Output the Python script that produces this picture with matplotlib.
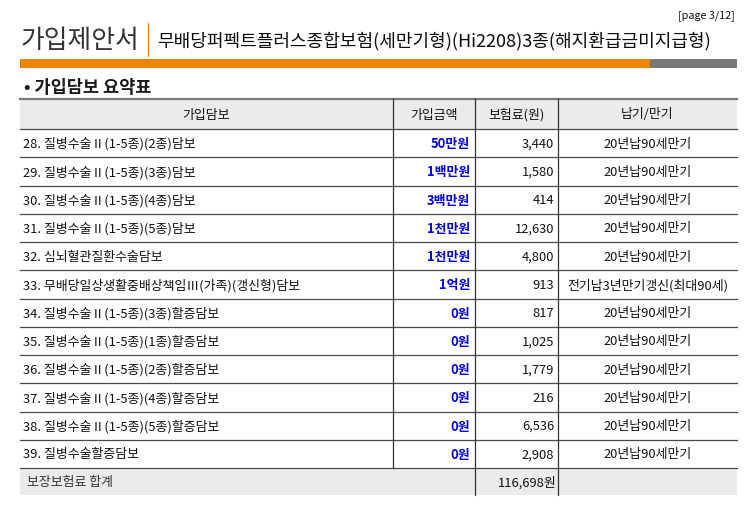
import matplotlib
matplotlib.use("Agg")
import matplotlib.pyplot as plt
from matplotlib.patches import Rectangle

plt.rcParams['font.family'] = ['Noto Sans CJK KR', 'DejaVu Sans']

pageLabel = "[page 3/12]"
title = "가입제안서"
subtitle = "무배당퍼펙트플러스종합보험(세만기형)(Hi2208)3종(해지환급금미지급형)"
section = "• 가입담보 요약표"
headers = ["가입담보", "가입금액", "보험료(원)", "납기/만기"]

coverages = [
    "28. 질병수술Ⅱ(1-5종)(2종)담보",
    "29. 질병수술Ⅱ(1-5종)(3종)담보",
    "30. 질병수술Ⅱ(1-5종)(4종)담보",
    "31. 질병수술Ⅱ(1-5종)(5종)담보",
    "32. 심뇌혈관질환수술담보",
    "33. 무배당일상생활중배상책임Ⅲ(가족)(갱신형)담보",
    "34. 질병수술Ⅱ(1-5종)(3종)할증담보",
    "35. 질병수술Ⅱ(1-5종)(1종)할증담보",
    "36. 질병수술Ⅱ(1-5종)(2종)할증담보",
    "37. 질병수술Ⅱ(1-5종)(4종)할증담보",
    "38. 질병수술Ⅱ(1-5종)(5종)할증담보",
    "39. 질병수술할증담보",
]
amounts = ["50만원", "1백만원", "3백만원", "1천만원", "1천만원", "1억원",
           "0원", "0원", "0원", "0원", "0원", "0원"]
premiums = [3440, 1580, 414, 12630, 4800, 913, 817, 1025, 1779, 216, 6536, 2908]
terms = ["20년납90세만기"] * 5 + ["전기납3년만기갱신(최대90세)"] + ["20년납90세만기"] * 6
totalLabel = "보장보험료 합계"
totalValue = "116,698원"

orange = "#f08300"
gray = "#787878"
fill = "#ebebeb"
textc = "#111111"
blue = "#0000e0"
fs = 9.3

fig = plt.figure(figsize=(7.48, 5.10), dpi=100)
ax = fig.add_axes([0, 0, 1, 1])
ax.set_xlim(0, 748)
ax.set_ylim(510, 0)
ax.axis('off')

# header block
ax.text(735, 16, pageLabel, ha='right', va='center', fontsize=7.8, color=textc)
ax.text(21, 40, title, ha='left', va='center', fontsize=18.6, color="#333333")
ax.plot([148, 148], [24, 57], color=orange, linewidth=0.9)
ax.text(157, 41, subtitle, ha='left', va='center', fontsize=13, color="#0a0a0a")
ax.add_patch(Rectangle((20, 60), 630, 9, color=orange, linewidth=0))
ax.add_patch(Rectangle((650, 60), 87, 9, color=gray, linewidth=0))
ax.text(24, 88, section, ha='left', va='center', fontsize=12.6, fontweight='bold', color="#1a1a1a")

# table geometry
left, right = 20, 737
colx = [393, 475, 558]
top = 100
headH = 30
rowH = 28.25
nRows = len(coverages)
bodyTop = top + headH
bodyBot = bodyTop + rowH * nRows
totBot = bodyBot + 27

ax.add_patch(Rectangle((left, top), right - left, headH, color=fill, linewidth=0))
ax.add_patch(Rectangle((left, bodyBot), right - left, totBot - bodyBot, color=fill, linewidth=0))

ax.plot([left, right], [top, top], color=gray, linewidth=1.6)
hx = [(left + colx[0]) / 2, (colx[0] + colx[1]) / 2, (colx[1] + colx[2]) / 2, (colx[2] + right) / 2]
for x, h in zip(hx, headers):
    ax.text(x, top + headH / 2, h, ha='center', va='center', fontsize=fs, color=textc)

for i in range(nRows + 1):
    y = bodyTop + i * rowH
    ax.plot([left, right], [y, y], color="#4a4a4a", linewidth=0.9)

ax.plot([colx[0], colx[0]], [top, bodyBot], color="#333333", linewidth=0.9)
for x in colx[1:]:
    ax.plot([x, x], [top, totBot], color="#333333", linewidth=0.9)

for i in range(nRows):
    yc = bodyTop + (i + 0.5) * rowH
    ax.text(23, yc, coverages[i], ha='left', va='center', fontsize=fs, color=textc)
    ax.text(colx[1] - 5, yc, amounts[i], ha='right', va='center', fontsize=fs,
            fontweight='bold', color=blue)
    ax.text(colx[2] - 4, yc, "{:,}".format(premiums[i]), ha='right', va='center',
            fontsize=fs, color=textc)
    ax.text(hx[3], yc, terms[i], ha='center', va='center', fontsize=fs, color=textc)

ty = (bodyBot + totBot) / 2
ax.text(27, ty, totalLabel, ha='left', va='center', fontsize=fs, color="#333333")
ax.text(colx[2] - 1, ty, totalValue, ha='right', va='center', fontsize=fs, color=textc)

plt.savefig('out.png', dpi=100)
